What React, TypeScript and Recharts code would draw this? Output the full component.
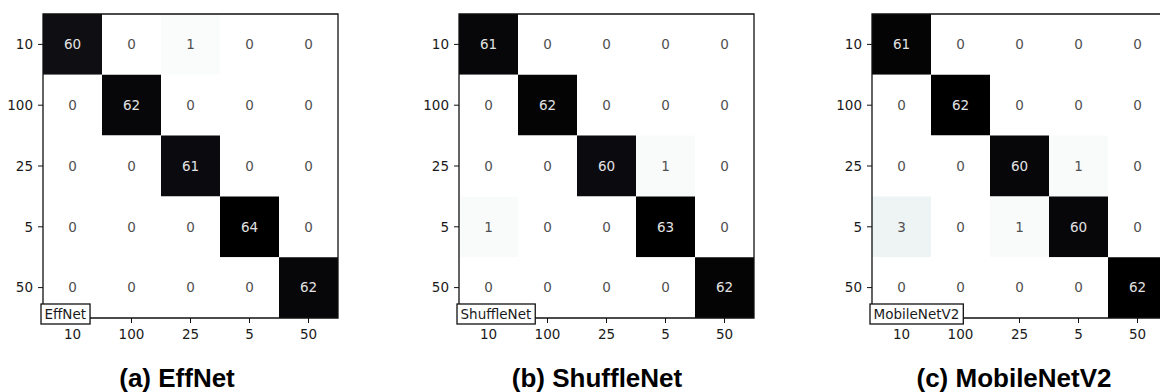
import React from 'react';
import { ScatterChart, Scatter, XAxis, YAxis, ReferenceArea, ReferenceDot } from 'recharts';

const classLabels = ['10', '100', '25', '5', '50'];
const classIndex = [0, 1, 2, 3, 4];

const effNetMatrix = [
  [60, 0, 1, 0, 0],
  [0, 62, 0, 0, 0],
  [0, 0, 61, 0, 0],
  [0, 0, 0, 64, 0],
  [0, 0, 0, 0, 62],
];
const shuffleNetMatrix = [
  [61, 0, 0, 0, 0],
  [0, 62, 0, 0, 0],
  [0, 0, 60, 1, 0],
  [1, 0, 0, 63, 0],
  [0, 0, 0, 0, 62],
];
const mobileNetMatrix = [
  [61, 0, 0, 0, 0],
  [0, 62, 0, 0, 0],
  [0, 0, 60, 1, 0],
  [3, 0, 1, 60, 0],
  [0, 0, 0, 0, 62],
];

const modelNames = ['EffNet', 'ShuffleNet', 'MobileNetV2'];
const captions = ['(a) EffNet', '(b) ShuffleNet', '(c) MobileNetV2'];

// matplotlib "bone" colormap segment data (used reversed)
const boneR: number[][] = [[0, 0], [0.746032, 0.652778], [1, 1]];
const boneG: number[][] = [[0, 0], [0.365079, 0.319444], [0.746032, 0.777778], [1, 1]];
const boneB: number[][] = [[0, 0], [0.365079, 0.444444], [1, 1]];

function seg(s: number[][], t: number) {
  for (let i = 1; i < s.length; i++) {
    if (t <= s[i][0]) {
      const [x0, y0] = s[i - 1];
      const [x1, y1] = s[i];
      return y0 + ((y1 - y0) * (t - x0)) / (x1 - x0);
    }
  }
  return s[s.length - 1][1];
}
function boneRColor(v: number, vmax: number) {
  const t = 1 - v / vmax;
  const c = (x: number) => Math.round(Math.max(0, Math.min(1, x)) * 255);
  return `rgb(${c(seg(boneR, t))},${c(seg(boneG, t))},${c(seg(boneB, t))})`;
}

const TICK_FONT = "'DejaVu Sans', sans-serif";
const FS = 13.5;

let measureCtx: CanvasRenderingContext2D | null = null;
function textWidth(s: string, font: string) {
  if (typeof document === 'undefined') return s.length * 7;
  if (!measureCtx) measureCtx = document.createElement('canvas').getContext('2d');
  if (!measureCtx) return s.length * 7;
  measureCtx.font = font;
  return measureCtx.measureText(s).width;
}

function NameBox(props: any) {
  const { cx, cy, name } = props;
  const tw = textWidth(name, `${FS}px ${TICK_FONT}`);
  const x0 = cx - 2;
  return (
    <g>
      <rect x={x0} y={cy - 14} width={tw + 7.5} height={20} fill="#fff" stroke="#111" strokeWidth={1.3} />
      <text x={x0 + 3.5} y={cy + 1} fontSize={FS} fontFamily={TICK_FONT} fill="#1a1a1a">
        {name}
      </text>
    </g>
  );
}

function Panel({ matrix, name, left }: { matrix: number[][]; name: string; left: number }) {
  const vmax = Math.max(...matrix.flat());
  const points = matrix.flatMap((row, r) => row.map((v, c) => ({ x: c, y: r, v })));
  return (
    <div style={{ position: 'absolute', left, top: 0 }}>
      <ScatterChart width={348} height={392} margin={{ top: 14, right: 10, bottom: 44, left: 0 }}>
        <XAxis
          type="number"
          dataKey="x"
          domain={[-0.5, 4.5]}
          ticks={classIndex}
          interval={0}
          tickFormatter={(i: number) => classLabels[i]}
          tickSize={5}
          tickMargin={6}
          height={30}
          axisLine={false}
          tickLine={{ stroke: '#111' }}
          tick={{ fill: '#1a1a1a', fontSize: FS, fontFamily: TICK_FONT }}
          allowDataOverflow
        />
        <YAxis
          type="number"
          dataKey="y"
          domain={[-0.5, 4.5]}
          reversed
          ticks={classIndex}
          interval={0}
          tickFormatter={(i: number) => classLabels[i]}
          tickSize={5}
          tickMargin={5}
          width={43}
          axisLine={false}
          tickLine={{ stroke: '#111' }}
          tick={{ fill: '#1a1a1a', fontSize: FS, fontFamily: TICK_FONT }}
          allowDataOverflow
        />
        {points.map((p) => (
          <ReferenceArea
            key={`c-${p.x}-${p.y}`}
            x1={p.x - 0.5}
            x2={p.x + 0.5}
            y1={p.y - 0.5}
            y2={p.y + 0.5}
            fill={boneRColor(p.v, vmax)}
            fillOpacity={1}
            stroke="none"
            ifOverflow="visible"
          />
        ))}
        <ReferenceArea
          x1={-0.5}
          x2={4.5}
          y1={-0.5}
          y2={4.5}
          fill="none"
          fillOpacity={0}
          stroke="#111"
          strokeWidth={1.3}
          ifOverflow="visible"
        />
        <Scatter
          data={points}
          isAnimationActive={false}
          shape={(props: any) => (
            <text
              x={props.cx}
              y={props.cy}
              dy="0.36em"
              textAnchor="middle"
              fontSize={FS}
              fontFamily={TICK_FONT}
              fill={props.payload.v > vmax / 2 ? '#e2e2e2' : '#505050'}
            >
              {props.payload.v}
            </text>
          )}
        />
        <ReferenceDot
          x={-0.5}
          y={4.5}
          ifOverflow="visible"
          shape={(props: any) => <NameBox cx={props.cx} cy={props.cy} name={name} />}
        />
      </ScatterChart>
    </div>
  );
}

const panelLefts = [0, 416, 829];
const captionCenters = [177, 597, 1014];
const matrices = [effNetMatrix, shuffleNetMatrix, mobileNetMatrix];

export default function App() {
  return (
    <div
      style={{
        position: 'absolute',
        left: 0,
        top: 0,
        width: 1160,
        height: 392,
        overflow: 'hidden',
        background: '#fff',
      }}
    >
      {matrices.map((m, i) => (
        <Panel key={modelNames[i]} matrix={m} name={modelNames[i]} left={panelLefts[i]} />
      ))}
      <svg width={1160} height={392} style={{ position: 'absolute', left: 0, top: 0, pointerEvents: 'none' }}>
        {captions.map((c, i) => (
          <text
            key={c}
            x={captionCenters[i]}
            y={387}
            textAnchor="middle"
            fontSize={26}
            fontWeight="bold"
            fontFamily="'Liberation Sans', Arial, sans-serif"
            fill="#000"
          >
            {c}
          </text>
        ))}
      </svg>
    </div>
  );
}
